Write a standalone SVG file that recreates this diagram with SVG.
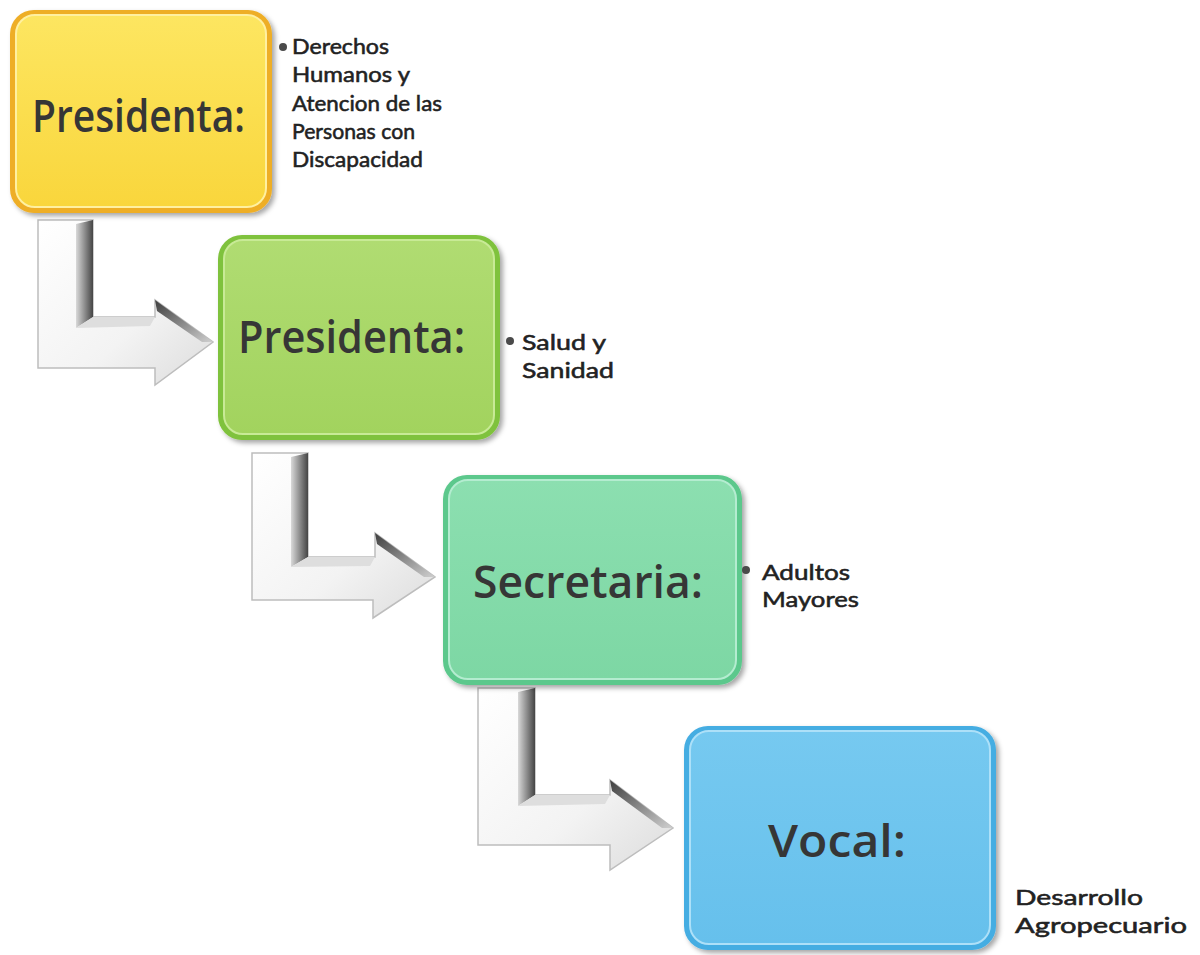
<svg xmlns="http://www.w3.org/2000/svg" width="1200" height="955" viewBox="0 0 1200 955">
<defs>
<style>
.title{font-family:"Open Sans","Liberation Sans",sans-serif;font-weight:600;font-size:46px;fill:#363636;}
.side{font-family:"Lato","Liberation Sans",sans-serif;font-weight:400;font-size:22px;fill:#222222;stroke:#222222;stroke-width:0.55;}
.bullet{fill:#4a4a4a;}
.arrow{stroke:#bdbdbd;stroke-width:1.5;fill:url(#arrowFill);}
.bevel{fill:url(#bevelDark);}
.topface{fill:#dedede;}
.headface{fill:url(#headDark);}
</style>
<linearGradient id="arrowFill" x1="0" y1="0" x2="1" y2="1">
<stop offset="0" stop-color="#ffffff"/>
<stop offset="0.6" stop-color="#f3f3f3"/>
<stop offset="1" stop-color="#dcdcdc"/>
</linearGradient>
<linearGradient id="bevelDark" x1="0" y1="0" x2="1" y2="0">
<stop offset="0" stop-color="#d9d9d9"/>
<stop offset="1" stop-color="#454545"/>
</linearGradient>
<linearGradient id="headDark" x1="0" y1="0" x2="1" y2="1">
<stop offset="0" stop-color="#3f3f3f"/>
<stop offset="1" stop-color="#cfcfcf"/>
</linearGradient>
<linearGradient id="gY" x1="0" y1="0" x2="0" y2="1">
<stop offset="0" stop-color="#fde661"/>
<stop offset="1" stop-color="#f9d63c"/>
</linearGradient>
<linearGradient id="gG" x1="0" y1="0" x2="0" y2="1">
<stop offset="0" stop-color="#b0dc72"/>
<stop offset="1" stop-color="#a2d35e"/>
</linearGradient>
<linearGradient id="gT" x1="0" y1="0" x2="0" y2="1">
<stop offset="0" stop-color="#8cdfb0"/>
<stop offset="1" stop-color="#7dd7a4"/>
</linearGradient>
<linearGradient id="gB" x1="0" y1="0" x2="0" y2="1">
<stop offset="0" stop-color="#76c9f0"/>
<stop offset="1" stop-color="#66c0ec"/>
</linearGradient>
<filter id="sh" x="-10%" y="-10%" width="125%" height="125%">
<feDropShadow dx="3" dy="3" stdDeviation="2.5" flood-color="#000" flood-opacity="0.35"/>
</filter>
</defs>
<rect width="1200" height="955" fill="#ffffff"/>

<g id="connectors">
<g id="arrow1">
<path class="arrow" d="M38,220 L93,220 L93,317 L155,317 L155,300 L213,342 L155,385 L155,368 L38,368 Z"/>
<polygon class="bevel" points="76,224 93,220 93,317 76,328"/>
<polygon class="topface" points="76,328 93,317 155,317 150,326"/>
<polygon class="headface" points="155,300 213,342 202,342 157,311"/>
</g>
<g id="arrow2">
<path class="arrow" d="M252,453 L308,453 L308,557 L375,557 L375,533 L435,577 L373,618 L373,600 L252,600 Z"/>
<polygon class="bevel" points="291,457 308,453 308,557 291,567"/>
<polygon class="topface" points="291,567 308,557 375,557 370,566"/>
<polygon class="headface" points="375,533 435,577 424,577 377,544"/>
</g>
<g id="arrow3">
<path class="arrow" d="M478,688 L535,688 L535,795 L610,795 L610,780 L673,828 L610,870 L610,845 L478,845 Z"/>
<polygon class="bevel" points="518,692 535,688 535,795 518,806"/>
<polygon class="topface" points="518,806 535,795 610,795 605,804"/>
<polygon class="headface" points="610,780 673,828 662,828 612,791"/>
</g>
</g>

<g id="node1">
<rect x="10" y="10" width="262" height="203" rx="24" fill="#eeae28" filter="url(#sh)"/>
<rect x="16" y="15" width="250" height="192" rx="19" fill="url(#gY)" stroke="#fff0a0" stroke-width="2"/>
<text class="title" x="32" y="132" textLength="213" lengthAdjust="spacingAndGlyphs">Presidenta:</text>
<circle class="bullet" cx="283" cy="47" r="4"/>
<text class="side" x="292" y="54" textLength="97" lengthAdjust="spacingAndGlyphs">Derechos</text>
<text class="side" x="292" y="82" textLength="118" lengthAdjust="spacingAndGlyphs">Humanos y</text>
<text class="side" x="292" y="111" textLength="150" lengthAdjust="spacingAndGlyphs">Atencion de las</text>
<text class="side" x="292" y="139" textLength="123" lengthAdjust="spacingAndGlyphs">Personas con</text>
<text class="side" x="292" y="167" textLength="131" lengthAdjust="spacingAndGlyphs">Discapacidad</text>
</g>

<g id="node2">
<rect x="218" y="235" width="282" height="205" rx="24" fill="#7fc23c" filter="url(#sh)"/>
<rect x="224" y="240" width="270" height="194" rx="19" fill="url(#gG)" stroke="#c8ea96" stroke-width="2"/>
<text class="title" x="238" y="353" textLength="227" lengthAdjust="spacingAndGlyphs">Presidenta:</text>
<circle class="bullet" cx="510" cy="341" r="4"/>
<text class="side" x="522" y="350" textLength="84" lengthAdjust="spacingAndGlyphs">Salud y</text>
<text class="side" x="522" y="378" textLength="92" lengthAdjust="spacingAndGlyphs">Sanidad</text>
</g>

<g id="node3">
<rect x="443" y="475" width="299" height="210" rx="24" fill="#5cc88c" filter="url(#sh)"/>
<rect x="449" y="480" width="287" height="199" rx="19" fill="url(#gT)" stroke="#b4ecd0" stroke-width="2"/>
<text class="title" x="473" y="598" textLength="230" lengthAdjust="spacingAndGlyphs">Secretaria:</text>
<circle class="bullet" cx="746" cy="570" r="4"/>
<text class="side" x="762" y="580" textLength="88" lengthAdjust="spacingAndGlyphs">Adultos</text>
<text class="side" x="762" y="607" textLength="97" lengthAdjust="spacingAndGlyphs">Mayores</text>
</g>

<g id="node4">
<rect x="684" y="726" width="312" height="224" rx="24" fill="#45ade2" filter="url(#sh)"/>
<rect x="690" y="731" width="300" height="213" rx="19" fill="url(#gB)" stroke="#ade0f8" stroke-width="2"/>
<text class="title" x="768" y="857" textLength="138" lengthAdjust="spacingAndGlyphs">Vocal:</text>
<text class="side" x="1015" y="905" textLength="128" lengthAdjust="spacingAndGlyphs">Desarrollo</text>
<text class="side" x="1015" y="933" textLength="172" lengthAdjust="spacingAndGlyphs">Agropecuario</text>
</g>
</svg>
